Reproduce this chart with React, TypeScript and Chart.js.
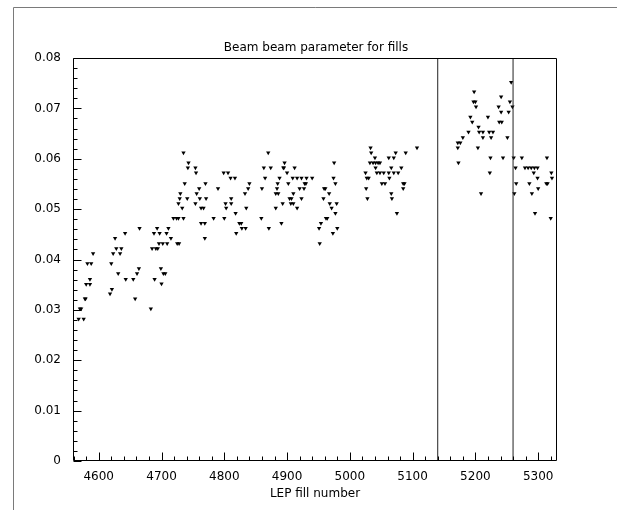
import React, { useEffect, useRef } from 'react';
import { Chart, registerables } from 'chart.js';

Chart.register(...registerables);

// ---- Data ----
const fills: number[] = [
  4568, 4576, 4570, 4572, 4578, 4579, 4580, 4586, 4586, 4582, 4588, 4591,
  4618, 4621, 4620, 4623, 4626, 4628, 4631, 4634, 4636, 4642, 4643, 4655,
  4658, 4661, 4664, 4665, 4683, 4685, 4689, 4691, 4694, 4688, 4693, 4697,
  4696, 4699, 4700, 4702, 4703, 4706, 4709, 4708, 4711, 4715, 4725, 4728,
  4719, 4724, 4727, 4735, 4727, 4729, 4730, 4733, 4737, 4735, 4741, 4743,
  4742, 4754, 4754, 4755, 4756, 4760, 4761, 4763, 4767, 4763, 4769, 4769,
  4771, 4770, 4783, 4790, 4800, 4799, 4806, 4802, 4803, 4811, 4811, 4810,
  4817, 4818, 4819, 4824, 4827, 4828, 4834, 4833, 4835, 4838, 4840, 4859,
  4860, 4863, 4874, 4865, 4870, 4871, 4882, 4886, 4882, 4884, 4885, 4888,
  4891, 4893, 4894, 4895, 4896, 4900, 4902, 4904, 4907, 4906, 4910, 4909,
  4910, 4912, 4916, 4916, 4920, 4927, 4923, 4923, 4928, 4930, 4931, 4940,
  4952, 4951, 4954, 4958, 4959, 4961, 4962, 4964, 4967, 4968, 4971, 4973,
  4974, 4975, 4977, 4977, 4979, 4980,
  5025, 5027, 5030, 5026, 5028, 5033, 5034, 5032, 5037, 5041, 5045, 5048,
  5040, 5041, 5043, 5048, 5054, 5051, 5056, 5062, 5070, 5066, 5062, 5063,
  5070, 5077, 5073, 5066, 5067, 5075, 5082, 5085, 5087, 5085, 5089, 5107,
  5173, 5172, 5176, 5172, 5180, 5189, 5192, 5195, 5197, 5200, 5201, 5198,
  5204, 5205, 5206, 5212, 5212, 5209, 5220, 5222, 5228, 5223, 5224, 5225,
  5237, 5238, 5242, 5241, 5241, 5244, 5251, 5253, 5255, 5257, 5259,
  5261, 5262, 5264, 5265, 5274, 5279, 5284, 5289, 5294, 5299, 5286, 5290,
  5293, 5295, 5299, 5300, 5313, 5315, 5314, 5320, 5321, 5322,
];

const beamBeam: number[] = [
  0.0282, 0.0282, 0.0302, 0.0302, 0.0322, 0.0322, 0.0351, 0.0351, 0.0361, 0.0392, 0.0392, 0.0412,
  0.0332, 0.0341, 0.0392, 0.0412, 0.0442, 0.0422, 0.0372, 0.0412, 0.0422, 0.0452, 0.0361, 0.0361,
  0.0322, 0.0372, 0.0382, 0.0462, 0.0302, 0.0422, 0.0361, 0.0422, 0.0422, 0.0452, 0.0462, 0.0452,
  0.0432, 0.0382, 0.0352, 0.0432, 0.0372, 0.0372, 0.0432, 0.0452, 0.0462, 0.0442, 0.0432, 0.0432,
  0.0482, 0.0482, 0.0482, 0.0482, 0.0511, 0.0521, 0.0531, 0.0502, 0.0551, 0.0612, 0.0521, 0.0592,
  0.0582, 0.0511, 0.0582, 0.0572, 0.0531, 0.0541, 0.0521, 0.0502, 0.0502, 0.0472, 0.0472, 0.0442,
  0.0521, 0.0551, 0.0482, 0.0541, 0.0482, 0.0572, 0.0572, 0.0511, 0.0502, 0.0521, 0.0511, 0.0562,
  0.0562, 0.0492, 0.0452, 0.0472, 0.0472, 0.0462, 0.0462, 0.0531, 0.0502, 0.0541, 0.0551, 0.0482,
  0.0541, 0.0582, 0.0582, 0.0562, 0.0612, 0.0462, 0.0531, 0.0531, 0.0502, 0.0541, 0.0551, 0.0562,
  0.0472, 0.0511, 0.0582, 0.0582, 0.0592, 0.0572, 0.0551, 0.0521, 0.0521, 0.0511, 0.0511, 0.0562,
  0.0531, 0.0582, 0.0562, 0.0502, 0.0541, 0.0541, 0.0521, 0.0562, 0.0551, 0.0551, 0.0562, 0.0562,
  0.0432, 0.0462, 0.0472, 0.0521, 0.0541, 0.0541, 0.0482, 0.0482, 0.0531, 0.0511, 0.0502, 0.0452,
  0.0562, 0.0592, 0.0551, 0.0492, 0.0511, 0.0462,
  0.0572, 0.0562, 0.0562, 0.0541, 0.0521, 0.0622, 0.0612, 0.0592, 0.0592, 0.0592, 0.0592, 0.0592,
  0.0602, 0.0582, 0.0572, 0.0572, 0.0572, 0.0551, 0.0551, 0.0602, 0.0602, 0.0582, 0.0572, 0.0562,
  0.0572, 0.0572, 0.0612, 0.0531, 0.0521, 0.0492, 0.0582, 0.0551, 0.0551, 0.0541, 0.0612, 0.0622,
  0.0592, 0.0632, 0.0632, 0.0622, 0.0642, 0.0653, 0.0683, 0.0673, 0.0713, 0.0713, 0.0703, 0.0733,
  0.0622, 0.0663, 0.0653, 0.0653, 0.0642, 0.0531, 0.0683, 0.0653, 0.0653, 0.0572, 0.0602, 0.0642,
  0.0703, 0.0673, 0.0673, 0.0693, 0.0723, 0.0602, 0.0642, 0.0693, 0.0713, 0.0752, 0.0703,
  0.0602, 0.0531, 0.0582, 0.0551, 0.0602, 0.0582, 0.0582, 0.0582, 0.0582, 0.0582, 0.0551, 0.0531,
  0.0572, 0.0492, 0.0562, 0.0541, 0.0551, 0.0551, 0.0602, 0.0482, 0.0572, 0.0562,
];

const xTickValues: number[] = [4600, 4700, 4800, 4900, 5000, 5100, 5200, 5300];
const yTickValues: number[] = [0, 0.01, 0.02, 0.03, 0.04, 0.05, 0.06, 0.07, 0.08];
const markerLines: number[] = [5140, 5260];

const X_MIN = 4559;
const X_MAX = 5330;
const Y_MIN = 0;
const Y_MAX = 0.08;

const TITLE = 'Beam beam parameter for fills';
const X_TITLE = 'LEP fill number';
const FONT_FAMILY = '"DejaVu Sans", sans-serif';

export default function App() {
  const canvasRef = useRef<HTMLCanvasElement>(null);

  useEffect(() => {
    const canvas = canvasRef.current;
    if (!canvas) return;

    const framePlugin = {
      id: 'rootFrame',
      afterDraw(chart: any) {
        const { ctx, chartArea: a, scales } = chart;
        const xs = scales.x;
        const ys = scales.y;
        const L = Math.round(a.left) + 0.5;
        const R = Math.round(a.right) - 0.5;
        const T = Math.round(a.top) + 0.5;
        const B = Math.round(a.bottom) - 0.5;
        ctx.save();
        // pad frame
        ctx.lineWidth = 1;
        ctx.strokeStyle = '#7a7a7a';
        ctx.beginPath();
        ctx.moveTo(13.5, 510);
        ctx.lineTo(13.5, 7.5);
        ctx.lineTo(617, 7.5);
        ctx.stroke();
        // plot frame
        ctx.strokeStyle = '#000';
        ctx.beginPath();
        ctx.rect(L, T, R - L, B - T);
        ctx.stroke();
        // x ticks (inside)
        ctx.beginPath();
        for (let v = 4560; v <= X_MAX; v += 20) {
          const px = Math.round(xs.getPixelForValue(v)) + 0.5;
          const len = v % 100 === 0 ? 8 : 4;
          ctx.moveTo(px, B);
          ctx.lineTo(px, B - len);
        }
        // y ticks (inside)
        for (let i = 0; i <= 40; i++) {
          const v = i * 0.002;
          const py = Math.round(ys.getPixelForValue(v)) + 0.5;
          const len = i % 5 === 0 ? 8 : 4;
          ctx.moveTo(L, py);
          ctx.lineTo(L + len, py);
        }
        ctx.stroke();
        // titles
        ctx.fillStyle = '#000';
        ctx.font = '12px ' + FONT_FAMILY;
        ctx.textAlign = 'center';
        ctx.textBaseline = 'middle';
        ctx.fillText(TITLE, (a.left + a.right) / 2 + 1, a.top - 10);
        ctx.fillText(X_TITLE, (a.left + a.right) / 2, a.bottom + 33);
        ctx.restore();
      },
    };

    const points = fills.map((x, i) => ({ x, y: beamBeam[i] }));
    const lineSets = markerLines.map((v) => ({
      type: 'line' as const,
      data: [
        { x: v, y: Y_MIN },
        { x: v, y: Y_MAX },
      ],
      borderColor: '#222',
      borderWidth: 1,
      pointRadius: 0,
      fill: false,
      showLine: true,
    }));

    const chart = new Chart(canvas, {
      type: 'scatter',
      data: {
        datasets: [
          ...lineSets,
          {
            type: 'scatter' as const,
            data: points,
            pointStyle: 'triangle',
            rotation: 180,
            pointRadius: 2.5,
            backgroundColor: '#000',
            borderColor: '#000',
            borderWidth: 0,
          } as any,
        ],
      },
      options: {
        responsive: false,
        animation: false,
        devicePixelRatio: 1,
        layout: { padding: { left: 0, right: 60, top: 58, bottom: 0 } },
        plugins: {
          legend: { display: false },
          title: { display: false },
          tooltip: { enabled: false },
        },
        scales: {
          x: {
            type: 'linear',
            min: X_MIN,
            max: X_MAX,
            grid: { display: false, drawTicks: false },
            border: { display: false },
            afterBuildTicks: (s: any) => {
              s.ticks = xTickValues.map((v) => ({ value: v }));
            },
            afterFit: (s: any) => {
              s.height = 49;
            },
            ticks: {
              color: '#000',
              font: { family: FONT_FAMILY, size: 12 },
              padding: 9,
              maxRotation: 0,
              autoSkip: false,
              callback: (v: any) => String(v),
            },
          },
          y: {
            type: 'linear',
            min: Y_MIN,
            max: Y_MAX,
            grid: { display: false, drawTicks: false },
            border: { display: false },
            afterBuildTicks: (s: any) => {
              s.ticks = yTickValues.map((v) => ({ value: v }));
            },
            afterFit: (s: any) => {
              s.width = 73;
            },
            ticks: {
              color: '#000',
              font: { family: FONT_FAMILY, size: 12 },
              padding: 12,
              callback: (v: any) => (Number(v) === 0 ? '0' : Number(v).toFixed(2)),
            },
          },
        },
      } as any,
      plugins: [framePlugin],
    });

    return () => {
      chart.destroy();
    };
  }, []);

  return (
    <div style={{ position: 'absolute', left: 0, top: 0, width: 617, height: 510, background: '#fff' }}>
      <canvas ref={canvasRef} width={617} height={510} style={{ display: 'block' }} />
    </div>
  );
}
